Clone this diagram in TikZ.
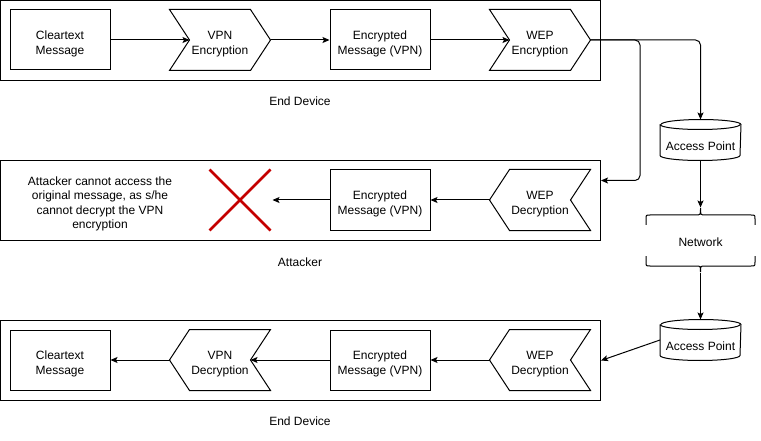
\documentclass[tikz,border=0pt]{standalone}
\usepackage{fontspec}
\setmainfont{Liberation Sans}
\usetikzlibrary{positioning,calc,arrows.meta}
\tikzset{>={Stealth[length=7pt,width=6pt,inset=1.5pt]}}
\definecolor{xred}{RGB}{196,0,0}
\tikzset{
  frame/.style={draw,line width=1pt,minimum width=600pt,minimum height=80pt,inner sep=0pt},
  msgbox/.style={draw,line width=1pt,minimum width=100pt,minimum height=60pt,inner sep=0pt,align=center,text height=28.6pt,text depth=0pt},
  stepbox/.style={minimum width=100pt,minimum height=60pt,inner sep=0pt,align=center,text height=28.6pt,text depth=0pt},
  apbox/.style={minimum width=80pt,minimum height=40pt,inner sep=0pt,text height=20.6pt,text depth=0pt},
  caption/.style={inner sep=0pt}
}
% step shape pointing right / left
\newcommand{\stepfwd}[4]{
  \node[stepbox] (#1) at (#2,#3) {#4};
  \draw (#1.north west) -- ([xshift=-20pt]#1.north east) -- (#1.east) -- ([xshift=-20pt]#1.south east) -- (#1.south west) -- ([xshift=20pt]#1.west) -- cycle;
}
\newcommand{\stepback}[4]{
  \node[stepbox] (#1) at (#2,#3) {#4};
  \draw ([xshift=20pt]#1.north west) -- (#1.north east) -- ([xshift=-20pt]#1.east) -- (#1.south east) -- ([xshift=20pt]#1.south west) -- (#1.west) -- cycle;
}
% cylinder for the access points
\newcommand{\accesspoint}[3]{
  \node[apbox] (#1) at (#2,#3) {Access Point};
  \draw ([yshift=-5pt]#1.north west) -- ([yshift=5pt]#1.south west)
    arc[start angle=180,end angle=360,x radius=40pt,y radius=5pt]
    -- ([yshift=-5pt]#1.north east)
    arc[start angle=0,end angle=180,x radius=40pt,y radius=5pt];
  \draw ([yshift=-5pt]#1.north west) arc[start angle=180,end angle=360,x radius=40pt,y radius=5pt];
}

\begin{document}
\begin{tikzpicture}[x=1pt,y=-1pt,line width=1pt,font=\fontsize{12}{14.4}\selectfont]
\useasboundingbox (0,0) rectangle (761,441);
% end device (sender)
\begin{scope}
\node[frame] (top) at (300.5,40.5) {};
\node[msgbox] (clr1) at (60,40) {Cleartext\\Message};
\stepfwd{vpnenc}{220}{40}{VPN\\Encryption}
\node[msgbox] (enc1) at (380,40) {Encrypted\\Message (VPN)};
\stepfwd{wepenc}{540}{40}{WEP\\Encryption}
\node[caption] (cap1) at (300,101) {End Device};
\draw[->] (clr1.east) -- ([xshift=20pt]vpnenc.west);
\draw[->] (vpnenc.east) -- (enc1.west);
\draw[->] (enc1.east) -- ([xshift=20pt]wepenc.west);
\end{scope}
% attacker
\begin{scope}
\node[frame] (att) at (300.5,200.5) {};
\node[caption,align=center] (note) at (100,204) {Attacker cannot access the\\original message, as s/he\\cannot decrypt the VPN\\encryption};
\node[minimum size=60pt,inner sep=0pt] (cross) at (240,200) {};
\draw[xred,line width=2.5pt] (cross.north west) -- (cross.south east);
\draw[xred,line width=2.5pt] (cross.north east) -- (cross.south west);
\node[msgbox] (enc2) at (380,200) {Encrypted\\Message (VPN)};
\stepback{wepdec1}{540}{200}{WEP\\Decryption}
\node[caption] (cap2) at (300,262) {Attacker};
\draw[->] (wepdec1.west) -- (enc2.east);
\draw[->] (enc2.west) -- ([xshift=2pt]cross.east);
\end{scope}
% end device (receiver)
\begin{scope}
\node[frame] (bot) at (300.5,360.5) {};
\node[msgbox] (clr3) at (60,360) {Cleartext\\Message};
\stepback{vpndec}{220}{360}{VPN\\Decryption}
\node[msgbox] (enc3) at (380,360) {Encrypted\\Message (VPN)};
\stepback{wepdec2}{540}{360}{WEP\\Decryption}
\node[caption] (cap3) at (300,421) {End Device};
\draw[->] (wepdec2.west) -- (enc3.east);
\draw[->] (enc3.west) -- ([xshift=-20pt]vpndec.east);
\draw[->] (vpndec.west) -- (clr3.east);
\end{scope}
% network side
\accesspoint{ap1}{700.5}{140}
\accesspoint{ap2}{700.5}{340}
\node[minimum width=109pt,minimum height=64pt,inner sep=0pt,text height=14pt,text depth=0pt] (net) at (700.5,240) {Network};
\draw (646,225) -- (646,219) .. controls (646,215) .. (650,215) -- (696,215) .. controls (700.5,215) .. (700.5,208)
  .. controls (700.5,215) .. (705,215) -- (751,215) .. controls (755,215) .. (755,219) -- (755,225);
\draw (646,256) -- (646,262) .. controls (646,266) .. (650,266) -- (696,266) .. controls (700.5,266) .. (700.5,272)
  .. controls (700.5,266) .. (705,266) -- (751,266) .. controls (755,266) .. (755,262) -- (755,256);
\draw[->,rounded corners=5pt] (wepenc.east) -| (ap1.north);
\draw[->,rounded corners=5pt] (wepenc.east) -- (640,40) |- ([yshift=20pt]att.east);
\draw[->] (ap1.south) -- (net.north);
\draw[->] (net.south) -- (ap2.north);
\draw[->] (ap2.west) -- (bot.east);
\end{tikzpicture}
\end{document}
